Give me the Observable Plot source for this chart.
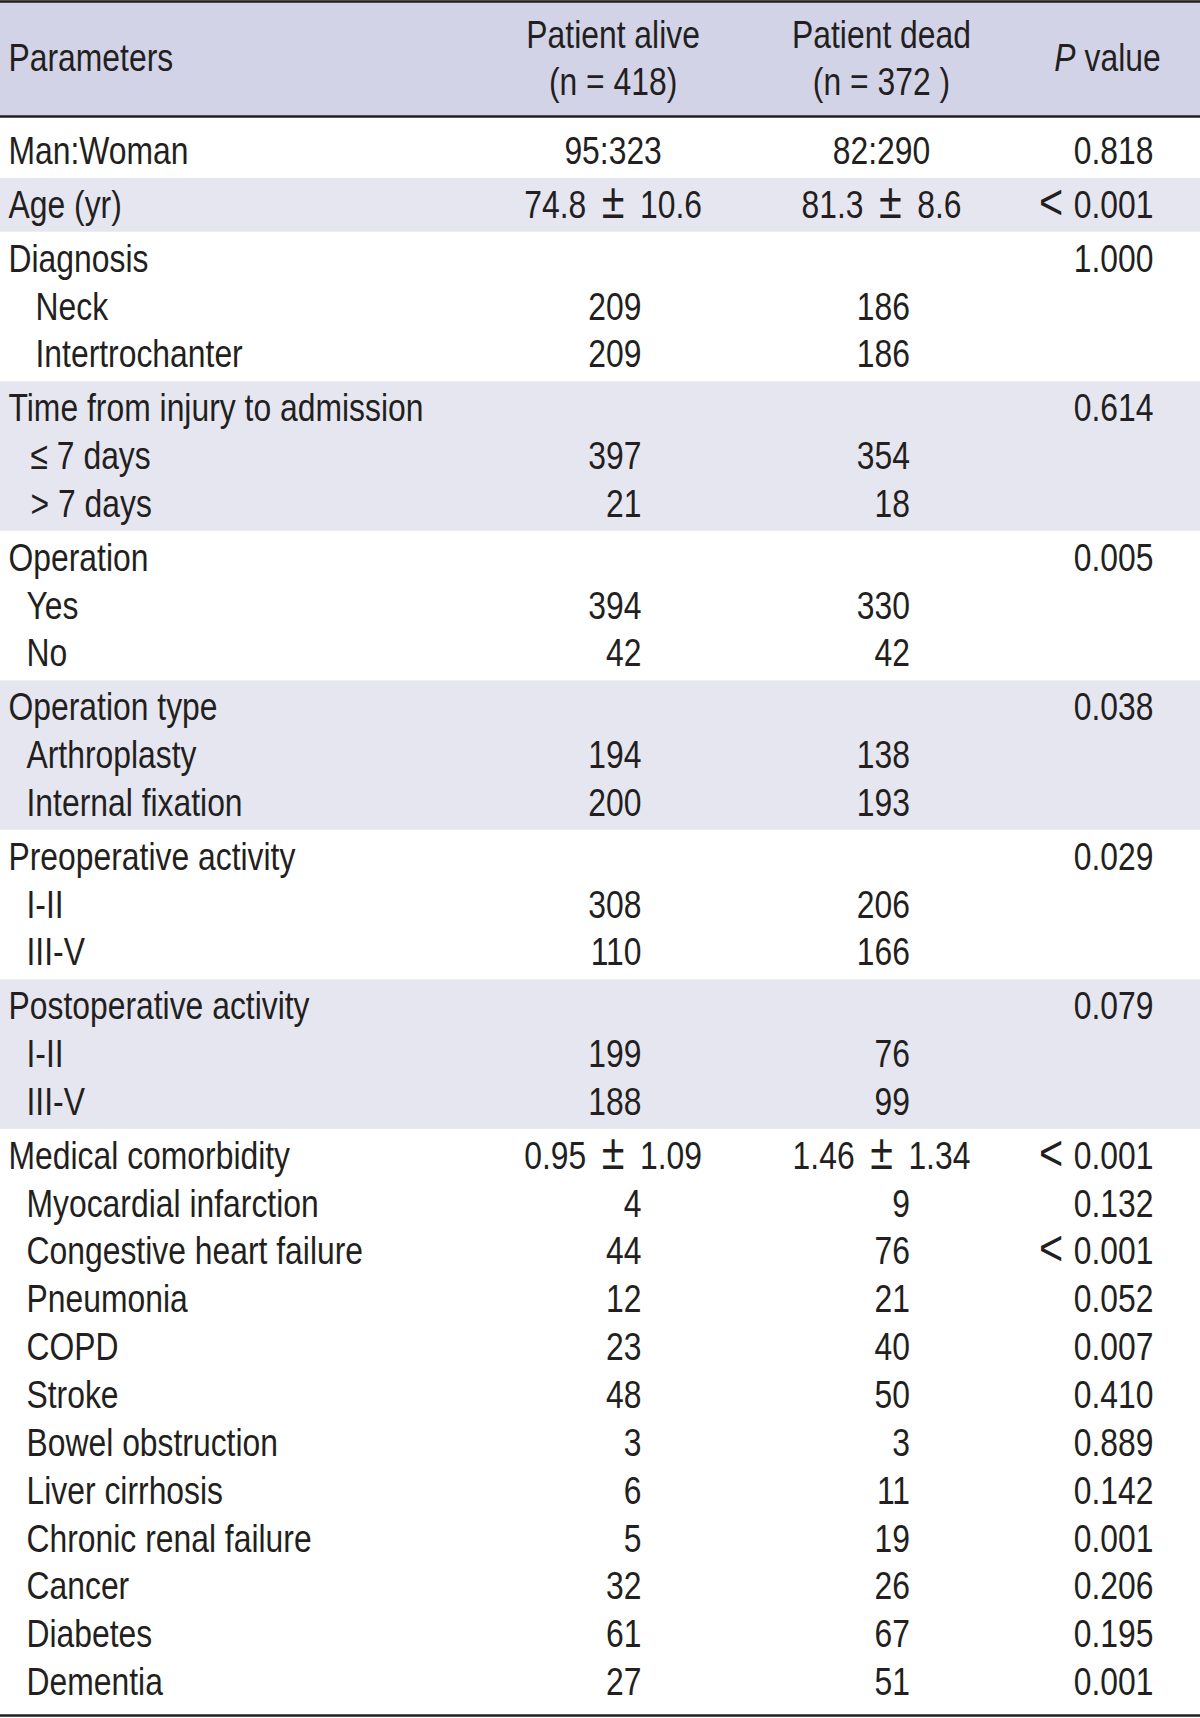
<!DOCTYPE html>
<html><head><meta charset="utf-8">
<script src="https://cdn.jsdelivr.net/npm/d3@7"></script>
<script src="https://cdn.jsdelivr.net/npm/@observablehq/plot@0.6"></script>
<style>
body{margin:0;background:#fff}
#chart svg{display:block}
</style>
</head><body><div id="chart"></div>
<script>
// ---- data ----
const headerLabels = ["Parameters", "Patient alive\n(n = 418)", "Patient dead\n(n = 372 )", "P value"];
const parameters = ["Man:Woman","Age (yr)","Diagnosis","Neck","Intertrochanter","Time from injury to admission","≤ 7 days","> 7 days","Operation","Yes","No","Operation type","Arthroplasty","Internal fixation","Preoperative activity","I-II","III-V","Postoperative activity","I-II","III-V","Medical comorbidity","Myocardial infarction","Congestive heart failure","Pneumonia","COPD","Stroke","Bowel obstruction","Liver cirrhosis","Chronic renal failure","Cancer","Diabetes","Dementia"];
const alive = ["95:323","74.8 ± 10.6","","209","209","","397","21","","394","42","","194","200","","308","110","","199","188","0.95 ± 1.09","4","44","12","23","48","3","6","5","32","61","27"];
const dead = ["82:290","81.3 ± 8.6","","186","186","","354","18","","330","42","","138","193","","206","166","","76","99","1.46 ± 1.34","9","76","21","40","50","3","11","19","26","67","51"];
const pValues = ["0.818","< 0.001","1.000","","","0.614","","","0.005","","","0.038","","","0.029","","","0.079","","","< 0.001","0.132","< 0.001","0.052","0.007","0.410","0.889","0.142","0.001","0.206","0.195","0.001"];
const groupOf = [0,1,2,2,2,3,3,3,4,4,4,5,5,5,6,6,6,7,7,7,8,8,8,8,8,8,8,8,8,8,8,8];
const indentLevel = [0,0,0,3,3,0,2,2,0,1,1,0,1,1,0,1,1,0,1,1,0,1,1,1,1,1,1,1,1,1,1,1];

// ---- layout ----
const W = 1200, H = 1718;
const headerBottom = 116, tableBottom = 1715, headerY = 56;
const firstRow = 151, pitch = 47.84, groupGap = 6;
const indentX = [8, 26, 30, 35];
const colAliveCenter = 612.6, colAliveRight = 641;
const colDeadCenter = 881, colDeadRight = 909.5;
const colPRight = 1153, colPCenter = 1107;
const ink = "#231f20";
const font = "'Liberation Sans',Arial,Helvetica,sans-serif";
const fs = 39;
const squeeze = 0.817; // condensed face

const rows = parameters.map((p, i) => ({
  label: p, alive: alive[i], dead: dead[i], p: pValues[i],
  group: groupOf[i], level: indentLevel[i],
  y: firstRow + i * pitch + groupOf[i] * groupGap
}));

const groupIds = [...new Set(groupOf)];
const bands = groupIds.map(g => {
  const rs = rows.filter(r => r.group === g);
  const prev = rows.filter(r => r.group === g - 1);
  const next = rows.filter(r => r.group === g + 1);
  const y1 = prev.length ? (prev[prev.length - 1].y + rs[0].y) / 2 : headerBottom;
  const y2 = next.length ? (rs[rs.length - 1].y + next[0].y) / 2 : tableBottom;
  return {group: g, y1, y2, shaded: g % 2 === 1};
});

const centered = v => /[:±]/.test(v);

const headerCells = [
  {text: headerLabels[0], x: indentX[0], y: headerY, anchor: "start"},
  {text: headerLabels[1], x: colAliveCenter, y: headerY, anchor: "middle"},
  {text: headerLabels[2], x: colDeadCenter, y: headerY, anchor: "middle"},
  {text: headerLabels[3], x: colPCenter, y: headerY, anchor: "middle"}
];

const cells = [];
rows.forEach(r => {
  cells.push({text: r.label, x: indentX[r.level], y: r.y, anchor: "start"});
  if (r.alive) cells.push({text: r.alive, x: centered(r.alive) ? colAliveCenter : colAliveRight, y: r.y, anchor: centered(r.alive) ? "middle" : "end"});
  if (r.dead) cells.push({text: r.dead, x: centered(r.dead) ? colDeadCenter : colDeadRight, y: r.y, anchor: centered(r.dead) ? "middle" : "end"});
  if (r.p) cells.push({text: r.p, x: colPRight, y: r.y, anchor: "end"});
});

const chart = Plot.plot({
  width: W, height: H, margin: 0,
  x: {domain: [0, W], range: [0, W], axis: null},
  y: {domain: [0, H], range: [0, H], axis: null},
  style: {fontFamily: font, background: "#fff"},
  marks: [
    Plot.rect([{y1: 0, y2: headerBottom}], {x1: 0, x2: W, y1: "y1", y2: "y2", fill: "#d3d3e7"}),
    Plot.rect(bands.filter(b => b.shaded), {x1: 0, x2: W, y1: "y1", y2: "y2", fill: "#e6e6f1"}),
    Plot.ruleY([1, headerBottom, tableBottom], {stroke: ink, strokeWidth: 2.5}),
    ...["start", "middle", "end"].map(a =>
      Plot.text(headerCells.filter(d => d.anchor === a), {x: "x", y: "y", text: "text", textAnchor: a, lineHeight: 1.2, fontSize: fs, fill: ink})),
    ...["start", "middle", "end"].map(a =>
      Plot.text(cells.filter(d => d.anchor === a), {x: "x", y: "y", text: "text", textAnchor: a, fontSize: fs, fill: ink}))
  ]
});

const ns = "http://www.w3.org/2000/svg";
const span = (txt, attrs = {}) => {
  const s = document.createElementNS(ns, "tspan");
  for (const k in attrs) s.setAttribute(k, attrs[k]);
  s.textContent = txt;
  return s;
};
chart.querySelectorAll("text").forEach(t => {
  const c = t.textContent;
  if (c === "P value") {
    // italic "P" in the P value header
    t.textContent = "";
    t.append(span("P", {"font-style": "italic"}), " value");
  } else if (c.includes(" ± ")) {
    // wider math-style ± as in the typeset table
    const [a, b] = c.split(" ± ");
    t.textContent = "";
    t.append(a, span("±", {dx: 19, "font-size": "1.3em"}), span(b, {dx: 19}));
    t.lastChild.setAttribute("font-size", fs);
  } else if (c.startsWith("< ")) {
    t.textContent = "";
    t.append(span("<", {"font-size": "1.3em", dy: 1}), span(c.slice(2), {dx: 13, dy: -1}));
    t.lastChild.setAttribute("font-size", fs);
  }
  // condense glyphs horizontally around each text's anchor point
  const tr = t.getAttribute("transform") || "";
  t.setAttribute("transform", `${tr} scale(${squeeze},1)`);
});
document.getElementById("chart").append(chart);
</script>
</body></html>
